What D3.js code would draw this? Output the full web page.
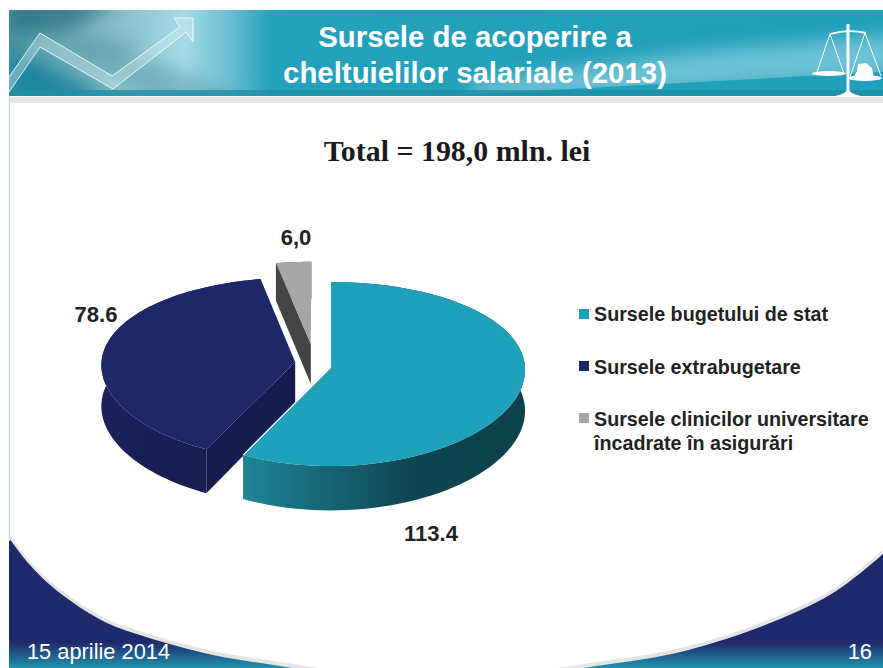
<!DOCTYPE html>
<html lang="ro">

<head>
  <meta charset="UTF-8" />
  <title>Sursele de acoperire a cheltuielilor salariale (2013)</title>
  <script src="https://d3js.org/d3.v7.js"></script>
  <style>
    body { margin: 0; background: #fff; }
    svg { display: block; }
    text { font-family: "Liberation Sans", Arial, sans-serif; }
  </style>
</head>

<body>
  <div id="graph-space"></div>
</body>
<script>
  // Chart data
  const categories = ["Sursele bugetului de stat", "Sursele extrabugetare", "Sursele clinicilor universitare"]
  const legendExtraLine = ["", "", "încadrate în asigurări"]
  const values = [113.4, 78.6, 6.0]
  const valueLabels = ["113.4", "78.6", "6,0"]
  const topColors = ["#1fa0bb", "#1e2768", "#a6a6a6"]
  const cutColors = ["#0e4550", "#171c4f", "#444444"]
  const titleLines = ["Sursele de acoperire a", "cheltuielilor salariale (2013)"]

  const width = 883
  const height = 668

  const svg = d3.select("#graph-space")
    .append("svg")
    .attr("width", width)
    .attr("height", height)
  const defs = svg.append("defs")

  function addGradient(id, stops, x1, y1, x2, y2) {
    const g = defs.append("linearGradient")
      .attr("id", id)
      .attr("gradientUnits", "userSpaceOnUse")
      .attr("x1", x1).attr("y1", y1).attr("x2", x2).attr("y2", y2)
    stops.forEach(s => g.append("stop").attr("offset", s[0]).attr("stop-color", s[1]).attr("stop-opacity", s[2] === undefined ? 1 : s[2]))
  }

  addGradient("bannerGrad", [[0, "#4d95a4"], [0.1, "#7db6c1"], [0.2, "#a4dae5"], [0.25, "#6cc0d2"], [0.3, "#24a1bb"], [1, "#20a0ba"]], 9, 0, 883, 0)
  addGradient("bottomGrad", [[0, "#1f2a6c"], [0.8, "#1f2a6c"], [1, "#1f93ad"]], 0, 540, 0, 668)
  addGradient("tealWall", [[0, "#1f8499"], [0.6, "#0e4550"], [1, "#0d424d"]], 243, 0, 525, 0)
  addGradient("navyWall", [[0, "#1a2059"], [1, "#181d52"]], 100, 0, 205, 0)
  const wallFills = ["url(#tealWall)", "url(#navyWall)", "#444444"]

  defs.append("filter").attr("id", "soft")
    .attr("x", "-30%").attr("y", "-60%").attr("width", "160%").attr("height", "220%")
    .append("feGaussianBlur").attr("stdDeviation", 9)
  defs.append("clipPath").attr("id", "wedgeClip").append("path").attr("d", "M440,96L883,72L883,10L440,10Z")
  defs.append("clipPath").attr("id", "leftClip").append("rect").attr("x", 9).attr("y", 10).attr("width", 300).attr("height", 86)

  // Slide background: navy corners with a white bowl cut over them
  const curve = d3.line().curve(d3.curveCatmullRom)
  const leftEdge = [[9, 538], [30, 565], [56, 590], [103, 621], [143, 636], [213, 655], [280, 666], [345, 676]]
  const rightEdge = [[530, 676], [590, 667], [676, 653], [760, 627], [833, 593], [884, 553]]

  function bowlPath(shift) {
    const left = leftEdge.map(p => [p[0], p[1] - shift])
    const right = rightEdge.map(p => [p[0], p[1] - shift])
    return curve(left) + "L" + curve(right).slice(1) + "L884,500L9,500Z"
  }

  svg.append("rect").attr("x", 9).attr("y", 530).attr("width", width - 9).attr("height", 138).attr("fill", "url(#bottomGrad)")
  svg.append("path").attr("d", bowlPath(0)).attr("fill", "#e4e4e4")
  svg.append("path").attr("d", bowlPath(4)).attr("fill", "#fff")

  // Left rule and band under the banner
  svg.append("rect").attr("x", 9).attr("y", 96).attr("width", 1).attr("height", 445).attr("fill", "#a9dde8")
  svg.append("rect").attr("x", 10).attr("y", 97).attr("width", width - 10).attr("height", 6).attr("fill", "#e6e6e6")

  // Banner
  svg.append("rect").attr("x", 9).attr("y", 10).attr("width", width - 9).attr("height", 86).attr("fill", "url(#bannerGrad)")
  svg.append("g").attr("clip-path", "url(#wedgeClip)")
    .append("path").attr("d", "M470,104L900,74L900,34L690,52L470,84Z")
    .attr("fill", "#7cc8da").attr("opacity", 0.85).attr("filter", "url(#soft)")

  // soft patches on the left of the banner (the photo behind the arrow)
  const patches = [
    ["M9,50L110,96L9,110Z", "#12839c", 0.9],
    ["M90,60L150,60L250,100L150,100Z", "#5d9fae", 0.6],
    ["M9,0L120,0L70,30L9,34Z", "#2b6f80", 0.75],
    ["M70,40L140,45L120,60L75,55Z", "#4c8d9c", 0.6]
  ]
  svg.append("g").attr("clip-path", "url(#leftClip)").selectAll("path").data(patches).join("path")
    .attr("d", d => d[0])
    .attr("fill", d => d[1])
    .attr("opacity", d => d[2])
    .attr("filter", "url(#soft)")
  svg.append("rect").attr("x", 9).attr("y", 90).attr("width", width - 9).attr("height", 6).attr("fill", "#1f8ea7").attr("opacity", 0.8)

  // Rising arrow
  const arrowPts = [[9, 77], [40, 33], [112, 76], [180, 27], [174, 18], [193, 18], [193, 42], [186, 32], [113, 89], [40, 47], [9, 92]]
  svg.append("path")
    .attr("d", d3.line()(arrowPts))
    .attr("fill", "#dff3f6").attr("fill-opacity", 0.35)
    .attr("stroke", "#fff").attr("stroke-width", 1).attr("stroke-opacity", 0.85)

  // Scales icon
  const scalesIcon = svg.append("g").attr("fill", "#fff").attr("stroke", "#fff")
  scalesIcon.append("rect").attr("x", 846.5).attr("y", 24).attr("width", 3).attr("height", 70).attr("stroke", "none")
  scalesIcon.append("path").attr("d", "M830,34Q848,29 866,33").attr("fill", "none").attr("stroke-width", 1.8)
  scalesIcon.append("path").attr("d", "M830,34L817,72M830,34L844,74M865,33L850,77M865,33L881,76").attr("fill", "none").attr("stroke-width", 1)
  scalesIcon.append("ellipse").attr("cx", 829).attr("cy", 73.5).attr("rx", 17).attr("ry", 2.6).attr("stroke", "none")
  scalesIcon.append("ellipse").attr("cx", 865).attr("cy", 78).attr("rx", 17).attr("ry", 3).attr("stroke", "none")
  scalesIcon.append("path").attr("d", "M853,78L857,71L858,64L866,63L872,68L874,78Z").attr("stroke", "none")
  scalesIcon.append("path").attr("d", "M848,88Q847,94 836,96L860,96Q849,94 848,88Z").attr("stroke-width", 0.5)

  // Banner title
  svg.append("g").selectAll("text").data(titleLines).join("text")
    .attr("x", 475)
    .attr("y", (d, i) => 47 + i * 36)
    .attr("text-anchor", "middle")
    .attr("font-size", 29.4)
    .attr("font-weight", "bold")
    .attr("fill", "#fff")
    .text(d => d)

  svg.append("text")
    .attr("x", 457).attr("y", 161)
    .attr("text-anchor", "middle")
    .attr("font-size", 29.9)
    .attr("font-weight", "bold")
    .attr("fill", "#1a1a1a")
    .style("font-family", "'Liberation Serif', serif")
    .text("Total = 198,0 mln. lei")

  // 3D pie: angles from d3.pie, then a small perspective projection of the disc
  const cx = 331, cy = 367
  const radiusX = 194, radiusY = 91.5, depth = 41, persp = 0.076, perspX = 0.03
  // how far each slice is pulled out, in disc units
  const explodeU = [0, -0.185, -0.105]
  const explodeV = [0, 0.055, 0.26]

  function project(u, v, z) {
    const w = 1 + persp * v
    return [cx + radiusX * u / (1 + perspX * v), cy - radiusY * v / w + depth * z / w]
  }

  const slices = d3.pie().sort(null).startAngle(0).endAngle(2 * Math.PI)(values)
  const pieGroup = svg.append("g")
  const linePath = d3.line()

  // back to front so the teal slice sits on top
  d3.range(slices.length - 1, -1, -1).forEach(i => {
    const s = slices[i]
    const du = explodeU[i], dv = explodeV[i]
    const angles = d3.range(0, 81).map(t => s.startAngle + (s.endAngle - s.startAngle) * t / 80)
    const rim = z => angles.map(a => project(du + Math.sin(a), dv + Math.cos(a), z))
    const apex = z => project(du, dv, z)

    // outer wall
    pieGroup.append("path")
      .attr("d", linePath(rim(0).concat(rim(1).reverse())) + "Z")
      .attr("fill", wallFills[i])
    // cut wall on the start side
    const startRim0 = rim(0)[0], startRim1 = rim(1)[0]
    pieGroup.append("path")
      .attr("d", linePath([apex(0), startRim0, startRim1, apex(1)]) + "Z")
      .attr("fill", cutColors[i])
    // top face
    pieGroup.append("path")
      .attr("d", linePath([apex(0)].concat(rim(0))) + "Z")
      .attr("fill", topColors[i])
    // thin light edge along the cut that faces the navy slice
    if (i === 0) {
      pieGroup.append("path")
        .attr("d", linePath([apex(0), rim(0)[80]]))
        .attr("fill", "none")
        .attr("stroke", "#fff").attr("stroke-width", 1.2)
    }
  })

  // Value labels
  const labelX = [431, 96, 296]
  const labelY = [541, 322, 245]
  svg.append("g").selectAll("text").data(valueLabels).join("text")
    .attr("x", (d, i) => labelX[i])
    .attr("y", (d, i) => labelY[i])
    .attr("text-anchor", "middle")
    .attr("font-size", 22)
    .attr("font-weight", "bold")
    .attr("fill", "#222")
    .text(d => d)

  // Legend
  const legendRow = d3.scaleOrdinal().domain(categories).range([321, 374, 426])
  const legendSquareY = [309, 361, 413]
  const legend = svg.append("g").selectAll("g").data(categories).join("g")
  legend.append("rect")
    .attr("x", 579)
    .attr("y", (d, i) => legendSquareY[i])
    .attr("width", 10)
    .attr("height", 10)
    .attr("fill", (d, i) => topColors[i])
  legend.append("text")
    .attr("x", 594)
    .attr("y", d => legendRow(d))
    .attr("font-size", 19.7)
    .attr("font-weight", "bold")
    .attr("fill", "#222")
    .text(d => d)
  legend.append("text")
    .attr("x", 594)
    .attr("y", d => legendRow(d) + 24)
    .attr("font-size", 19.7)
    .attr("font-weight", "bold")
    .attr("fill", "#222")
    .text((d, i) => legendExtraLine[i])

  // Footer
  svg.append("text").attr("x", 27).attr("y", 659).attr("font-size", 21.8).attr("fill", "#fff").text("15 aprilie 2014")
  svg.append("text").attr("x", 872).attr("y", 659).attr("text-anchor", "end").attr("font-size", 21.8).attr("fill", "#fff").text("16")
</script>

</html>
